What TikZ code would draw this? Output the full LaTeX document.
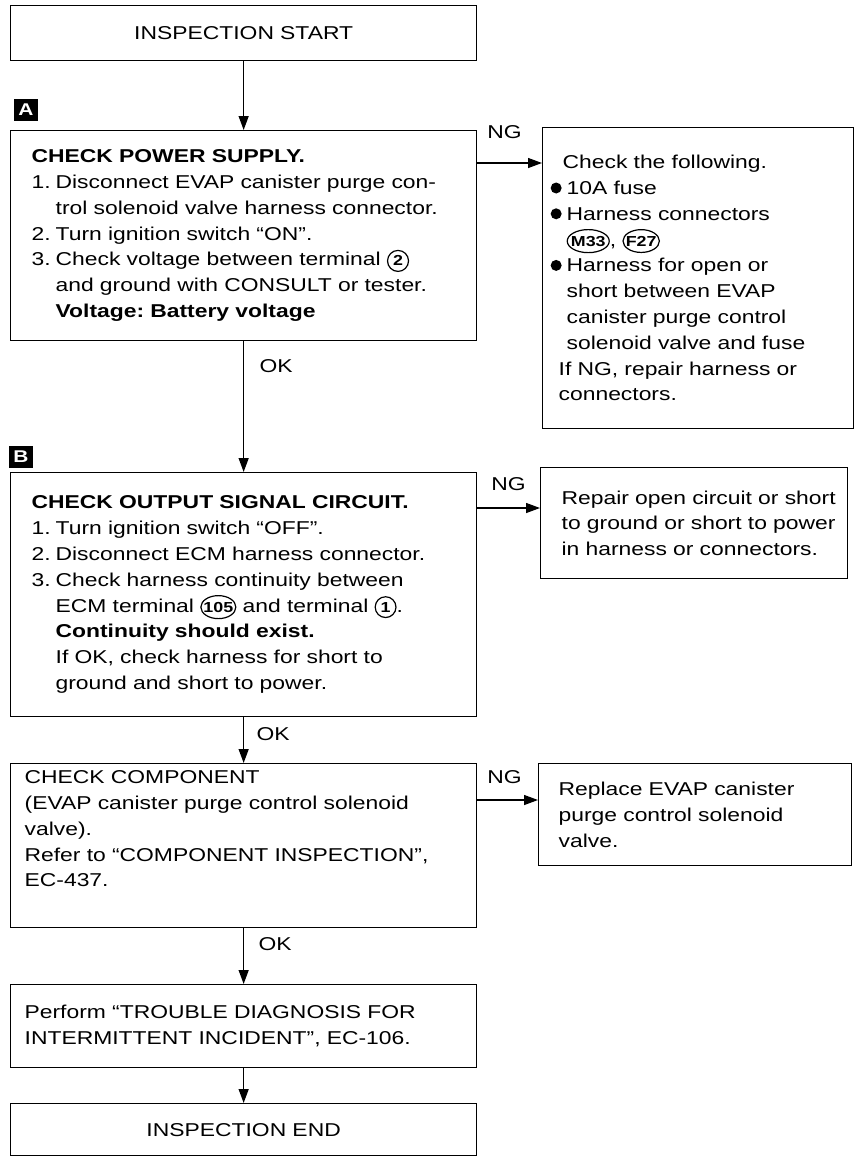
\documentclass[tikz,border=0pt]{standalone}
\usepackage{fontspec}
\setmainfont[FakeStretch=1.23]{Liberation Sans}
\usetikzlibrary{arrows.meta,shapes.geometric}
\frenchspacing

\newcommand{\paso}[1]{\makebox[24pt][l]{#1}}
\newcommand{\sangria}{\hspace*{24pt}}
\newcommand{\vineta}{\makebox[16pt][l]{\tikz[baseline=-6.5pt]\fill (0pt,0pt) circle [radius=5.5pt];}}
\newcommand{\circnum}[1]{\tikz[baseline=(c.base)]\node[sello,circle,inner sep=2.4pt](c){#1};}
\newcommand{\conector}[1]{\tikz[baseline=(c.base)]\node[sello,ellipse,inner xsep=-2.5pt,inner ysep=3pt](c){#1};}

\begin{document}
\begin{tikzpicture}[x=1pt, y=-1pt,
        bloque/.style={draw, line width=1.3pt, anchor=north west, align=left,
        inner ysep=0pt, font=\fontsize{18.6}{25.8}\selectfont,
        execute at begin node={\rightskip=0pt plus 1fil minus 100pt\relax}},
        bloquec/.style={bloque, align=center, inner xsep=0pt, text width=466pt,
        execute at begin node={\leftskip=0pt plus 1fil\relax}},
        marca/.style={fill=black, text=white, inner sep=0pt, minimum width=24pt,
        minimum height=22pt, font=\bfseries\fontsize{17}{17}\selectfont},
        etiqueta/.style={inner sep=3.3pt, font=\fontsize{18.6}{25.8}\selectfont},
        sello/.style={draw, line width=1.2pt, text width=, align=center, anchor=center,
        minimum width=0pt, minimum height=0pt, text depth=, text height=,
        font=\bfseries\fontsize{14.5}{14.5}\selectfont},
        flecha/.style={line width=1.3pt, -{Triangle[length=14pt,width=10pt]}}
    ]
        \useasboundingbox (0,0) rectangle (857,1157);
        \node[bloquec, minimum height=55pt] (inicio) at (10,5) {INSPECTION START};
        \node[marca] (marcaA) at (26,110) {A};
        \node[bloque, inner xsep=21pt, text width=424pt, minimum height=210pt] (fuente) at (10,130) {%
            \textbf{CHECK POWER SUPPLY.}\\
            \paso{1.}Disconnect EVAP canister purge con-\\
            \sangria trol solenoid valve harness connector.\\
            \paso{2.}Turn ignition switch “ON”.\\
            \paso{3.}Check voltage between terminal \circnum{2}\\
            \sangria and ground with CONSULT or tester.\\
            \sangria\textbf{Voltage: Battery voltage}};
        \node[bloque, inner xsep=8pt, text width=295pt, minimum height=301pt] (ngfuente) at (542,127) {%
            \hspace*{12pt}Check the following.\\
            \vineta 10A fuse\\
            \vineta Harness connectors\\
            \hspace*{16pt}\conector{M33}, \conector{F27}\\
            \vineta Harness for open or\\
            \hspace*{16pt}short between EVAP\\
            \hspace*{16pt}canister purge control\\
            \hspace*{16pt}solenoid valve and fuse\\
            \hspace*{8pt}If NG, repair harness or\\
            \hspace*{8pt}connectors.};
        \node[marca] (marcaB) at (21,457) {B};
        \node[bloque, inner xsep=21pt, text width=424pt, minimum height=244pt] (salida) at (10,472) {%
            \textbf{CHECK OUTPUT SIGNAL CIRCUIT.}\\
            \paso{1.}Turn ignition switch “OFF”.\\
            \paso{2.}Disconnect ECM harness connector.\\
            \paso{3.}Check harness continuity between\\
            \sangria ECM terminal \conector{105} and terminal \circnum{1}.\\
            \sangria\textbf{Continuity should exist.}\\
            \sangria If OK, check harness for short to\\
            \sangria ground and short to power.};
        \node[bloque, inner xsep=21pt, text width=265pt, minimum height=111pt] (ngsalida) at (540,467) {%
            Repair open circuit or short\\
            to ground or short to power\\
            in harness or connectors.};
        \node[bloque, inner xsep=14pt, text width=438pt, minimum height=164pt, text depth=137pt] (componente) at (10,763) {%
            CHECK COMPONENT\\
            (EVAP canister purge control solenoid\\
            valve).\\
            Refer to “COMPONENT INSPECTION”,\\
            EC-437.};
        \node[bloque, inner xsep=20pt, text width=273pt, minimum height=102pt] (ngcomp) at (538,763) {%
            Replace EVAP canister\\
            purge control solenoid\\
            valve.};
        \node[bloque, inner xsep=14pt, text width=438pt, minimum height=83pt] (intermitente) at (10,984) {%
            Perform “TROUBLE DIAGNOSIS FOR\\
            INTERMITTENT INCIDENT”, EC-106.};
        \node[bloquec, minimum height=52pt] (fin) at (10,1103) {INSPECTION END};
        \draw[flecha] (inicio) -- (fuente);
        \draw[flecha] (fuente) -- node[etiqueta, pos=0, anchor=north west, xshift=12pt, yshift=-14pt] {OK} (salida);
        \draw[flecha] (salida) -- node[etiqueta, pos=0, anchor=north west, xshift=9pt, yshift=-6pt] {OK} (componente);
        \draw[flecha] (componente) -- node[etiqueta, pos=0, anchor=north west, xshift=11pt, yshift=-5pt] {OK} (intermitente);
        \draw[flecha] (intermitente) -- (fin);
        \draw[flecha] ([yshift=-33pt]fuente.north east) -- node[etiqueta, pos=0, anchor=base west, xshift=6pt, yshift=25pt] {NG} ([yshift=-33pt]fuente.north east -| ngfuente.west);
        \draw[flecha] ([yshift=-36pt]salida.north east) -- node[etiqueta, pos=0, anchor=base west, xshift=10pt, yshift=18pt] {NG} ([yshift=-36pt]salida.north east -| ngsalida.west);
        \draw[flecha] ([yshift=-37pt]componente.north east) -- node[etiqueta, pos=0, anchor=base west, xshift=6pt, yshift=17pt] {NG} ([yshift=-37pt]componente.north east -| ngcomp.west);
    \end{tikzpicture}
\end{document}
